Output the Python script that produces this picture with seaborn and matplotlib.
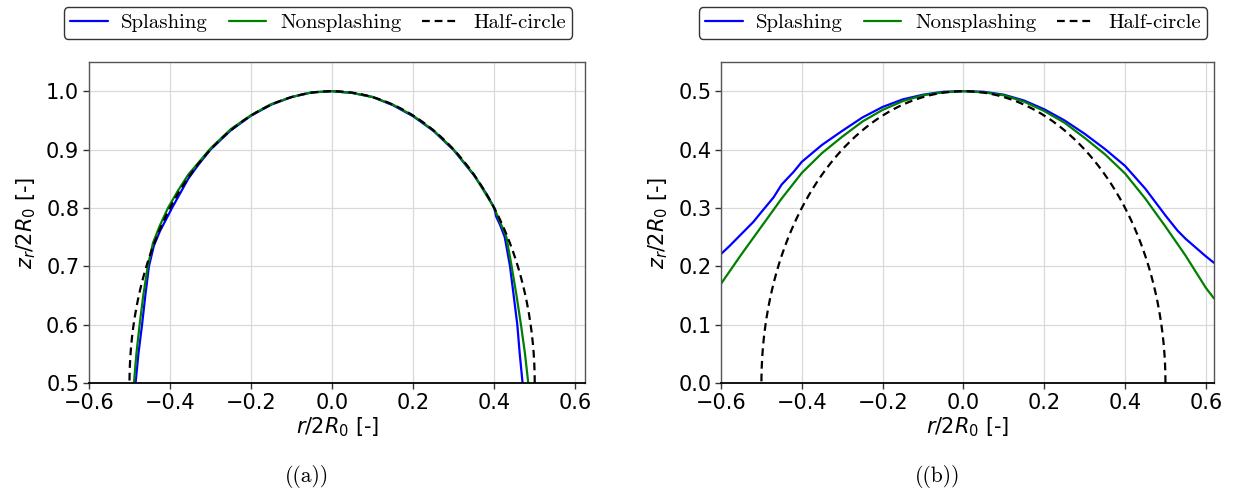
import numpy as np
import pandas as pd
import matplotlib
matplotlib.use("Agg")
import matplotlib.pyplot as plt
import seaborn as sns

# ---------------- data ----------------
# Panel (a): interface profiles, z_r/2R0 vs r/2R0
a_splash_r = [-0.486, -0.485, -0.478, -0.469, -0.461, -0.452, -0.440, -0.425, -0.410, -0.395,
              -0.375, -0.355, -0.330, -0.300, -0.250, -0.200, -0.150, -0.100, -0.050, 0.000,
              0.050, 0.100, 0.150, 0.200, 0.250, 0.300, 0.350, 0.380, 0.400, 0.405,
              0.415, 0.426, 0.439, 0.448, 0.457, 0.463, 0.470, 0.471]
a_splash_z = [0.49, 0.50, 0.55, 0.60, 0.65, 0.70, 0.735, 0.760, 0.780, 0.800,
              0.825, 0.850, 0.874, 0.900, 0.933, 0.958, 0.977, 0.990, 0.998, 1.000,
              0.997, 0.990, 0.976, 0.957, 0.932, 0.899, 0.856, 0.825, 0.800, 0.785,
              0.770, 0.750, 0.700, 0.650, 0.600, 0.550, 0.500, 0.49]
a_nonsplash_r = [-0.490, -0.489, -0.483, -0.475, -0.466, -0.455, -0.442, -0.425, -0.405, -0.380,
                 -0.355, -0.300, -0.250, -0.200, -0.150, -0.100, -0.050, 0.000, 0.050, 0.100,
                 0.150, 0.200, 0.250, 0.300, 0.350, 0.400, 0.415, 0.430, 0.443, 0.455,
                 0.466, 0.476, 0.484, 0.485]
a_nonsplash_z = [0.49, 0.50, 0.55, 0.60, 0.65, 0.70, 0.740, 0.770, 0.800, 0.830,
                 0.857, 0.902, 0.935, 0.959, 0.978, 0.990, 0.998, 1.000, 0.997, 0.990,
                 0.977, 0.958, 0.933, 0.900, 0.857, 0.800, 0.775, 0.750, 0.700, 0.650,
                 0.600, 0.550, 0.500, 0.49]

# Panel (b)
b_splash_r = [-0.60, -0.58, -0.55, -0.52, -0.50, -0.47, -0.45, -0.42, -0.40, -0.35,
              -0.30, -0.25, -0.20, -0.15, -0.10, -0.05, 0.00, 0.05, 0.10, 0.15,
              0.20, 0.25, 0.30, 0.35, 0.40, 0.45, 0.50, 0.53, 0.55, 0.58, 0.60, 0.62]
b_splash_z = [0.221, 0.234, 0.255, 0.276, 0.293, 0.318, 0.340, 0.362, 0.379, 0.408,
              0.432, 0.455, 0.473, 0.486, 0.494, 0.499, 0.500, 0.499, 0.494, 0.484,
              0.469, 0.450, 0.427, 0.401, 0.372, 0.333, 0.287, 0.261, 0.247, 0.229, 0.217, 0.206]
b_nonsplash_r = [-0.60, -0.55, -0.50, -0.45, -0.40, -0.35, -0.30, -0.25, -0.20, -0.15,
                 -0.10, -0.05, 0.00, 0.05, 0.10, 0.15, 0.20, 0.25, 0.30, 0.35,
                 0.40, 0.45, 0.50, 0.55, 0.60, 0.62]
b_nonsplash_z = [0.170, 0.220, 0.268, 0.316, 0.360, 0.394, 0.422, 0.448, 0.468, 0.483,
                 0.493, 0.498, 0.500, 0.498, 0.493, 0.482, 0.466, 0.446, 0.420, 0.392,
                 0.359, 0.316, 0.268, 0.218, 0.163, 0.145]

# Reference half-circle of radius 0.5 (geometric reference curve)
circle_radius = 0.5
a_circle_base = 0.5
b_circle_base = 0.0

x_ticks = [-0.6, -0.4, -0.2, 0.0, 0.2, 0.4, 0.6]
a_y_ticks = [0.5, 0.6, 0.7, 0.8, 0.9, 1.0]
b_y_ticks = [0.0, 0.1, 0.2, 0.3, 0.4, 0.5]
labels = ["Splashing", "Nonsplashing", "Half-circle"]
captions = ["((a))", "((b))"]

# ---------------- plotting ----------------
sns.set_style("white")
plt.rcParams["font.family"] = ["DejaVu Sans"]
plt.rcParams["mathtext.fontset"] = "dejavusans"
plt.rcParams["text.color"] = "black"
plt.rcParams["axes.labelcolor"] = "black"
plt.rcParams["xtick.color"] = "black"
plt.rcParams["ytick.color"] = "black"

fig = plt.figure(figsize=(12.41, 4.91), dpi=100)
ax_a = fig.add_axes([0.0717, 0.2200, 0.4000, 0.6537])
ax_b = fig.add_axes([0.5810, 0.2200, 0.3972, 0.6537])

theta = np.linspace(0, np.pi, 721)
circ_r = circle_radius * np.cos(theta)
circ_dz = circle_radius * np.sin(theta)

panels = [
    (ax_a, a_splash_r, a_splash_z, a_nonsplash_r, a_nonsplash_z, a_circle_base, (0.5, 1.05), a_y_ticks, (-0.6, 0.625)),
    (ax_b, b_splash_r, b_splash_z, b_nonsplash_r, b_nonsplash_z, b_circle_base, (0.0, 0.55), b_y_ticks, (-0.6, 0.62)),
]

legend_centers = [(318 / 1241, 1 - 23 / 491), (953 / 1241, 1 - 23 / 491)]
caption_x = [307 / 1241, 938 / 1241]

for i, (ax, sr, sz, nr, nz, base, ylim, yt, xlim) in enumerate(panels):
    ds = pd.DataFrame({"r": sr, "z": sz})
    dn = pd.DataFrame({"r": nr, "z": nz})
    dc = pd.DataFrame({"r": circ_r, "z": base + circ_dz})
    sns.lineplot(data=ds, x="r", y="z", ax=ax, color="#0000ff", lw=1.6,
                 sort=False, estimator=None, label=labels[0])
    sns.lineplot(data=dn, x="r", y="z", ax=ax, color="#008000", lw=1.6,
                 sort=False, estimator=None, label=labels[1])
    sns.lineplot(data=dc, x="r", y="z", ax=ax, color="black", lw=1.6,
                 sort=False, estimator=None, label=labels[2])
    ax.lines[-1].set_linestyle((0, (3.5, 2.2)))

    ax.set_xlim(*xlim)
    ax.set_ylim(*ylim)
    ax.set_xticks(x_ticks)
    ax.set_yticks(yt)
    ax.set_xticklabels([f"{v:.1f}".replace("-", "\u2212") for v in x_ticks])
    ax.set_yticklabels([f"{v:.1f}" for v in yt])
    ax.tick_params(axis="both", labelsize=15, length=4, width=1, direction="out",
                   bottom=True, left=True, color="#333333", labelcolor="black", pad=3)
    ax.grid(True, color="#d9d9d9", lw=0.9)
    ax.set_axisbelow(True)
    for side in ["left", "top", "right"]:
        ax.spines[side].set_color("#555555")
        ax.spines[side].set_linewidth(1.0)
    ax.spines["bottom"].set_color("black")
    ax.spines["bottom"].set_linewidth(1.3)
    ax.set_xlabel(r"$r/2R_0$ [-]", fontsize=15, labelpad=2, color="black")
    ax.set_ylabel(r"$z_r/2R_0$ [-]", fontsize=15, labelpad=6, color="black")

    handles, labs = ax.get_legend_handles_labels()
    ax.get_legend().remove()
    leg = ax.legend(handles, labs, loc="center", bbox_to_anchor=legend_centers[i],
                    bbox_transform=fig.transFigure, ncol=3, frameon=True,
                    prop={"family": "cmr10", "size": 15}, handlelength=1.8,
                    handletextpad=0.65, columnspacing=1.0, borderpad=0.3,
                    fancybox=True)
    leg.get_frame().set_edgecolor("#333333")
    leg.get_frame().set_linewidth(1.0)
    leg.get_frame().set_alpha(1.0)
    for t in leg.get_texts():
        t.set_color("black")

    fig.text(caption_x[i], 1 - 477 / 491, captions[i], ha="center", va="center",
             family="cmr10", fontsize=15.5, color="black")

fig.savefig("out.png", dpi=100)
